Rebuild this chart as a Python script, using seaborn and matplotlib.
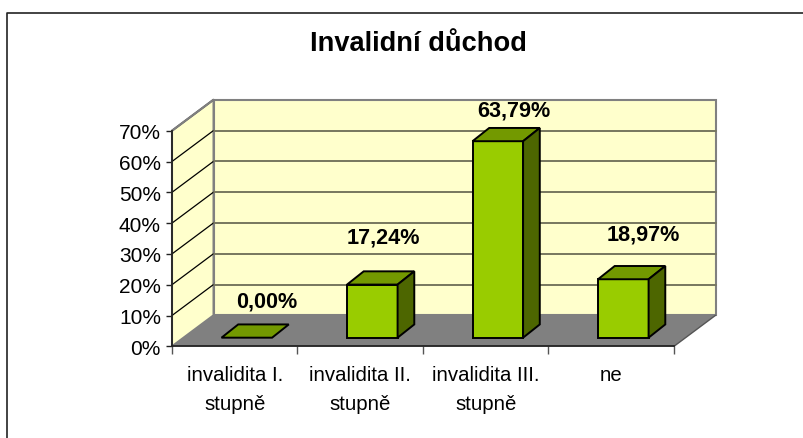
import matplotlib
matplotlib.use('Agg')
import matplotlib.pyplot as plt
import pandas as pd
import seaborn as sns
from matplotlib.lines import Line2D
from matplotlib.patches import Polygon

# Chart values
categories = ['invalidita I.\nstupně', 'invalidita II.\nstupně', 'invalidita III.\nstupně', 'ne']
values = [0.0, 17.24, 63.79, 18.97]
value_labels = ['0,00%', '17,24%', '63,79%', '18,97%']
y_ticks = [0, 10, 20, 30, 40, 50, 60, 70]
# the labels were moved by hand in the original, offsets in pixels from the bar's top centre
label_dx = [19.5, 11.5, 16, 20]
label_dy = [37, 48, 31, 45]

W, H = 804, 439
# depth of the fake 3D box, in data units
DX, DY = 0.331, 10.06
# bars stand part way into the floor
BAR_DX, BAR_DY = 0.096, 2.8
# depth of a single bar
SIDE_DX, SIDE_DY = 0.133, 4.3

sns.set_theme(style='white')
plt.rcParams['font.family'] = ['Liberation Sans', 'DejaVu Sans']

fig = plt.figure(figsize=(W / 100, H / 100), dpi=100)
ax = fig.add_axes([172 / W, 1 - 347.3 / H, 502 / W, 215.6 / H])
ax.patch.set_visible(False)

df = pd.DataFrame({'category': categories, 'value': values})
sns.barplot(data=df, x='category', y='value', color='#99CC00', saturation=1, width=0.403,
            bottom=BAR_DY, edgecolor='black', linewidth=1.4, ax=ax, zorder=5)
ax.set_xlim(-0.5, 3.5)
ax.set_ylim(0, 70)

wall = '#FFFFCC'
grey = '#808080'
x0, x1 = ax.get_xlim()
y0, y1 = ax.get_ylim()


def poly(points, face, edge='none', lw=0, z=1):
    ax.add_patch(Polygon(points, closed=True, facecolor=face, edgecolor=edge, linewidth=lw,
                         zorder=z, clip_on=False, joinstyle='miter'))


# walls and floor
poly([(x0 + DX, y0 + DY), (x1 + DX, y0 + DY), (x1 + DX, y1 + DY), (x0 + DX, y1 + DY)], wall, grey, 1.5)
poly([(x0, y0), (x0 + DX, y0 + DY), (x0 + DX, y1 + DY), (x0, y1)], wall, grey, 1.5)
poly([(x0, y0), (x1, y0), (x1 + DX, y0 + DY), (x0 + DX, y0 + DY)], grey, z=2)
ax.plot([x1, x1 + DX], [y0, y0 + DY], color='#555555', lw=1, clip_on=False, zorder=2)

# gridlines run along the side wall, then the back wall
for t in y_ticks[1:]:
    ax.plot([x0, x0 + DX], [t, t + DY], color='black', lw=0.9, clip_on=False, zorder=3)
    if t < y1:
        ax.plot([x0 + DX, x1 + DX], [t + DY, t + DY], color='#77775F', lw=1.4, clip_on=False, zorder=3)
ax.plot([x0, x0 + DX], [y1, y1 + DY], color=grey, lw=1.5, clip_on=False, zorder=3)

# shift the bars onto the floor and add top and side faces
for i, bar in enumerate(ax.patches[:len(values)]):
    v = values[i]
    bar.set_x(bar.get_x() + BAR_DX)
    bx0 = bar.get_x()
    bx1 = bx0 + bar.get_width()
    b = BAR_DY
    t = BAR_DY + v
    if v == 0:
        bar.set_visible(False)
    poly([(bx0, t), (bx1, t), (bx1 + SIDE_DX, t + SIDE_DY), (bx0 + SIDE_DX, t + SIDE_DY)],
         '#739900', 'black', 1.4, 6)
    if v > 0:
        poly([(bx1, b), (bx1 + SIDE_DX, b + SIDE_DY), (bx1 + SIDE_DX, t + SIDE_DY), (bx1, t)],
             '#4D6600', 'black', 1.4, 6)
    ax.annotate(value_labels[i], xy=((bx0 + bx1) / 2, t), xytext=(label_dx[i], label_dy[i]),
                textcoords='offset pixels', ha='center', va='center', annotation_clip=False,
                fontsize=15.6, fontweight='bold', color='black', zorder=7)

# axes
for side in ['top', 'right']:
    ax.spines[side].set_visible(False)
for side in ['left', 'bottom']:
    ax.spines[side].set_color('#222222')
    ax.spines[side].set_linewidth(1.3)
    ax.spines[side].set_zorder(4)
ax.set_xlabel('')
ax.set_ylabel('')
ax.set_yticks(y_ticks)
ax.set_yticklabels([f'{t}%' for t in y_ticks], fontsize=15, color='black')
ax.tick_params(axis='y', left=True, length=4, width=1, color='#222222', pad=4)
# tick marks between categories, labels in the middle
ax.set_xticks([-0.5, 0.5, 1.5, 2.5, 3.5])
ax.set_xticklabels([])
ax.tick_params(axis='x', which='major', bottom=True, length=6, width=1, color='#555555')
ax.set_xticks([0, 1, 2, 3], minor=True)
ax.set_xticklabels(categories, minor=True, fontsize=14.7, color='black', linespacing=1.65)
ax.tick_params(axis='x', which='minor', bottom=False, length=0, pad=13.5)

# chart area border runs off the image on the right and at the bottom
fig.add_artist(Line2D([7.5 / W, 7.5 / W, 1], [0, 1 - 14 / H, 1 - 14 / H], transform=fig.transFigure,
                      color='#222222', linewidth=1.2))
fig.text(418 / W, 1 - 44 / H, 'Invalidní důchod', ha='center', va='center',
         fontsize=19.6, fontweight='bold', color='black')

fig.savefig('out.png', dpi=100, facecolor='white')
